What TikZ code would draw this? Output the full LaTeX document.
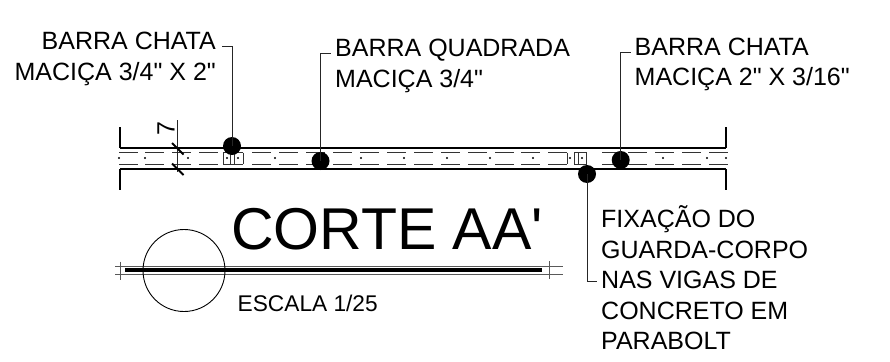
\documentclass[tikz,border=0pt]{standalone}
\usepackage{fontspec}
\newfontfamily\plainsans{Liberation Sans}
\begin{document}
\begin{tikzpicture}[x=1pt,y=-1pt,
  heavy/.style={line width=2.2pt,black},
  thin gray/.style={line width=0.9pt,black!65},
  dashline/.style={line width=0.8pt,black!80},
  leader/.style={line width=0.9pt,black!85},
  ball/.style={circle,fill=black,minimum size=18pt,inner sep=0pt},
  pin/.style={circle,fill=black,minimum size=2.4pt,inner sep=0pt},
  lab/.style={inner sep=0pt,anchor=north west,align=left,font=\plainsans\fontsize{25}{30.5}\selectfont}]
\useasboundingbox (0,0) rectangle (890,361);
% slab
\draw[heavy] (120,148.3) -- (726,148.3);
\draw[heavy] (120,169) -- (726,169);
\draw[heavy] (120,127) -- (120,148.3);
\draw[heavy] (120,169) -- (120,190);
\draw[heavy] (726,127) -- (726,148.3);
\draw[heavy] (726,169) -- (726,190);
% dashes
\foreach \a in {119,145,172,199,252,279,306,333,360,387,414,441,468,495,521,548,602,628,655,682,709}{
  \draw[dashline] (\a,152.5) -- ++(18.5,0);
  \draw[dashline] (\a,164) -- ++(18.5,0);
}
\foreach \a in {119,145,188,227,238,275,361,404,447,490,533,570,582,663,707,726}{
  \node[pin] at (\a,158) {};
}
% blocks
\draw[dashline] (223,152.5) -- (243,152.5) (223,164) -- (243,164);
\draw[dashline] (223,152.5) -- (223,164) (230.5,152.5) -- (230.5,164) (234,152.5) -- (234,164) (243,152.5) -- (243,164);
\draw[dashline] (567,152.5) -- (567,164);
\draw[dashline] (574,152.5) rectangle (586,164) (578.5,152.5) -- (578.5,164);
% dimension
\coordinate (dimT) at (177.5,120);
\coordinate (dimB) at (177.5,172);
\draw[leader] (dimT) -- (dimB);
\coordinate (t1a) at (172,143); \coordinate (t1b) at (183.5,154.5);
\coordinate (t2a) at (172,163.5); \coordinate (t2b) at (183.5,175);
\draw[line width=2pt] (t1a) -- (t1b);
\draw[line width=2pt] (t2a) -- (t2b);
\node[inner sep=0pt,rotate=90,font=\plainsans\fontsize{25}{28}\selectfont] (seven) at (166,128.7) {7};
% balls and leaders
\node[ball] (b1) at (232,146) {};
\node[ball] (b2) at (320.5,161) {};
\node[ball] (b3) at (620.7,160) {};
\node[ball] (b4) at (587,174) {};
\coordinate (c1) at (222,46);
\coordinate (c2) at (330.7,53.3);
\coordinate (c3) at (630.7,52);
\coordinate (c4) at (596.7,281);
\draw[leader] (b1.center) |- (c1);
\draw[leader] (b2.center) |- (c2);
\draw[leader] (b3.center) |- (c3);
\draw[leader] (b4.center) |- (c4);
% labels
\node[lab,align=right,anchor=north east] (l1) at (216,32.3) {BARRA CHATA\hspace{1.5pt}\\MACIÇA 3/4" X 2"};
\node[lab] (l2) at (335,39) {BARRA QUADRADA\\MACIÇA 3/4"};
\node[lab] (l3) at (634.5,37.7) {BARRA CHATA\\MACIÇA 2" X 3/16"};
\node[lab] (l4) at (601,205.8) {FIXAÇÃO DO\\GUARDA-CORPO\\NAS VIGAS DE\\CONCRETO EM\\PARABOLT};
% title
\node[inner sep=0pt,anchor=base west,font=\plainsans\fontsize{59}{66}\selectfont] (title) at (231,249) {CORTE AA'};
\coordinate (s1) at (115,266.7);
\coordinate (s2) at (563,266.7);
\coordinate (s3) at (115,274.3);
\coordinate (s4) at (563,274.3);
\draw[thin gray] (s1) -- (s2);
\draw[thin gray] (s3) -- (s4);
\draw[line width=4pt] (125,270.4) -- (542,270.4);
\draw[thin gray] (120,261.5) -- (120,279.5);
\draw[thin gray] (549,261) -- (549,279);
\node[circle,draw,line width=0.9pt,minimum size=82pt,inner sep=0pt] (cir) at (184,270.5) {};
\node[inner sep=0pt,anchor=base west,font=\plainsans\fontsize{22.7}{26}\selectfont] (esc) at (237.5,311.7) {ESCALA 1/25};
\end{tikzpicture}
\end{document}
